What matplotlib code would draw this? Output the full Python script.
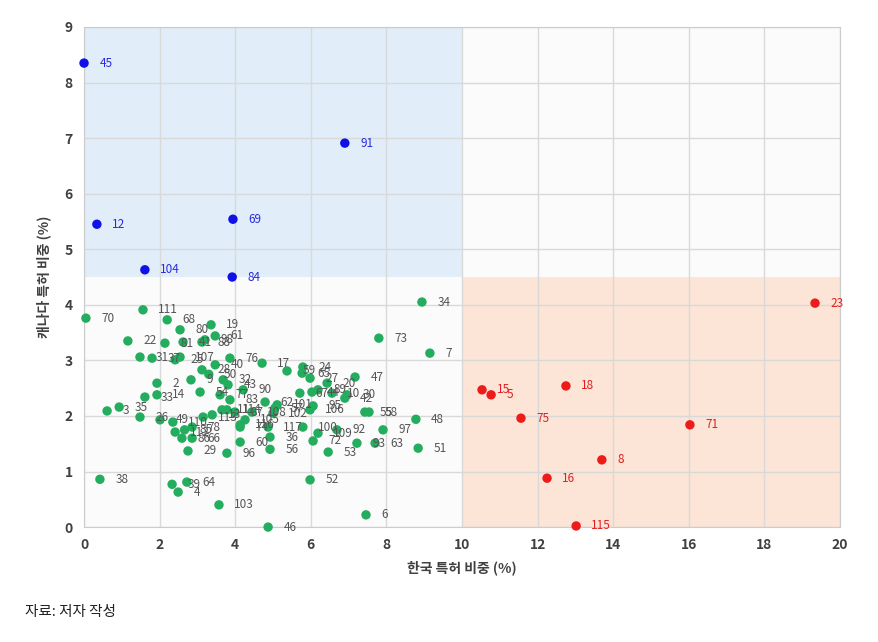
import matplotlib
matplotlib.use("Agg")
import matplotlib.pyplot as plt
from matplotlib.patches import Rectangle

plt.rcParams['font.family'] = ['Noto Sans CJK KR', 'DejaVu Sans']

# green: ordinary industries
green_lbl = [70, 111, 68, 19, 61, 22, 81, 41, 88, 80, 98, 31, 37, 25, 107, 28, 76, 17,
             40, 2, 9, 33, 14, 54, 3, 35, 26, 49, 110, 112, 66, 29, 113, 13, 114, 116,
             96, 38, 39, 64, 4, 103, 46, 6, 52, 117, 100, 36, 56, 109, 92, 72, 53, 93,
             63, 97, 51, 48, 7, 73, 34, 47, 55, 58, 59, 24, 65, 27, 67, 44, 20, 10, 42,
             30, 89, 62, 57, 102, 95, 106, 90, 32, 43, 83, 101, 11, 87, 105, 108, 78,
             74, 60, 86, 77, 50, 85]
green_x = [0.05, 1.56, 2.20, 3.36, 3.47, 1.16, 2.14, 2.62, 3.12, 2.54, 3.20, 1.48, 1.80,
           2.41, 2.54, 3.12, 3.86, 4.71, 3.47, 1.93, 2.83, 1.61, 1.93, 3.07, 0.61, 0.93,
           1.48, 2.01, 2.35, 2.41, 2.86, 2.75, 3.15, 3.39, 3.78, 4.13, 3.78, 0.42, 2.33,
           2.72, 2.49, 3.57, 4.87, 7.46, 5.98, 4.87, 5.79, 4.92, 4.92, 6.19, 6.69, 6.06,
           6.46, 7.22, 7.70, 7.91, 8.84, 8.78, 9.15, 7.80, 8.94, 7.17, 7.43, 7.54, 5.37,
           5.79, 5.77, 5.98, 5.71, 6.03, 6.43, 6.56, 6.90, 6.96, 6.19, 4.79, 5.05, 5.00,
           6.06, 5.98, 4.21, 3.68, 3.81, 3.86, 5.11, 3.65, 3.99, 4.26, 4.44, 2.86, 4.13,
           4.13, 2.59, 3.60, 3.30, 2.66]
green_y = [3.76, 3.91, 3.73, 3.64, 3.44, 3.35, 3.31, 3.33, 3.33, 3.55, 3.37, 3.06, 3.04,
           3.01, 3.06, 2.83, 3.04, 2.95, 2.92, 2.59, 2.65, 2.34, 2.38, 2.43, 2.09, 2.16,
           1.98, 1.93, 1.89, 1.71, 1.60, 1.37, 1.98, 2.02, 2.11, 1.84, 1.33, 0.86, 0.77,
           0.81, 0.63, 0.40, 0.00, 0.22, 0.85, 1.80, 1.80, 1.62, 1.40, 1.69, 1.75, 1.55,
           1.35, 1.51, 1.51, 1.75, 1.42, 1.94, 3.13, 3.40, 4.05, 2.70, 2.07, 2.07, 2.81,
           2.88, 2.77, 2.68, 2.41, 2.43, 2.59, 2.41, 2.32, 2.38, 2.47, 2.25, 2.14, 2.05,
           2.18, 2.11, 2.47, 2.65, 2.56, 2.29, 2.20, 2.11, 2.07, 1.93, 2.07, 1.80, 1.80,
           1.53, 1.60, 2.38, 2.75, 1.75]

# blue: Canada-heavy
blue_lbl = [45, 91, 12, 69, 104, 84]
blue_x = [0.0, 6.9, 0.34, 3.94, 1.61, 3.92]
blue_y = [8.35, 6.91, 5.45, 5.54, 4.63, 4.50]

# red: Korea-heavy
red_lbl = [23, 15, 5, 18, 75, 71, 8, 16, 115]
red_x = [19.34, 10.53, 10.77, 12.75, 11.56, 16.03, 13.70, 12.25, 13.02]
red_y = [4.03, 2.47, 2.38, 2.54, 1.96, 1.84, 1.21, 0.88, 0.02]

fig = plt.figure(figsize=(8.79, 6.42), dpi=100)
ax = fig.add_axes([0.0956, 0.179, 0.86, 0.779])
ax.set_facecolor('#FBFBFB')

# quadrant shading
ax.add_patch(Rectangle((0, 4.5), 10, 4.5, facecolor='#E1EDF8', edgecolor='none', zorder=0))
ax.add_patch(Rectangle((10, 0), 10, 4.5, facecolor='#FCE5D7', edgecolor='none', zorder=0))

ax.set_xlim(0, 20)
ax.set_ylim(0, 9)
ax.set_xticks(range(0, 21, 2))
ax.set_yticks(range(0, 10))
ax.grid(True, color='#D9D9D9', linewidth=1, zorder=1)
ax.set_axisbelow(True)
for s in ax.spines.values():
    s.set_color('#CCCCCC')
ax.tick_params(length=0, pad=8, labelsize=10, labelcolor='#404040')
for t in ax.get_xticklabels() + ax.get_yticklabels():
    t.set_fontweight('bold')

def draw(xs, ys, lbls, col, tcol):
    ax.scatter(xs, ys, s=46, color=col, zorder=3, clip_on=False, edgecolors='none')
    for x, y, l in zip(xs, ys, lbls):
        ax.annotate(str(l), (x, y), xytext=(11, 0), textcoords='offset points',
                    ha='left', va='center', fontsize=8.5, color=tcol, zorder=4)

draw(green_x, green_y, green_lbl, '#24AD5E', '#555555')
draw(blue_x, blue_y, blue_lbl, '#1010E8', '#2A2AE0')
draw(red_x, red_y, red_lbl, '#EE1B1B', '#E02020')

ax.set_xlabel('한국 특허 비중 (%)', fontsize=10, fontweight='bold', color='#404040', labelpad=6)
ax.set_ylabel('캐나다 특허 비중 (%)', fontsize=10, fontweight='bold', color='#404040', labelpad=10)

fig.text(25 / 879, 1 - 612 / 642, '자료: 저자 작성', fontsize=10.5, color='#222222',
         ha='left', va='center')

fig.savefig('out.png', dpi=100)
